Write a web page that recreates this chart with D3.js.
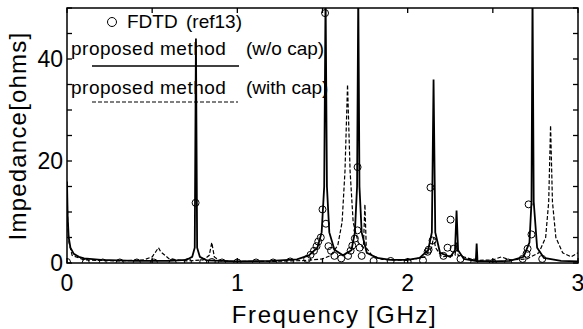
<!DOCTYPE html>
<html>
<head>
<meta charset="utf-8">
<script src="https://cdn.jsdelivr.net/npm/d3@7"></script>
<style>
body { margin:0; background:#fff; }
svg { display:block; font-family:"Liberation Sans", Arial, sans-serif; }
</style>
</head>
<body>
<div id="chart"></div>
<script>
// impedance vs frequency, [GHz, ohms]
var woCap = [[0,16],[0.004,9],[0.01,5],[0.02,3],[0.04,1.8],[0.07,1.2],[0.1,0.9],[0.2,0.6],[0.4,0.4],[0.6,0.4],[0.7,0.6],[0.735,1.2],[0.75,3],[0.757,44],[0.764,3],[0.78,1.2],[0.82,0.5],[1.0,0.3],[1.2,0.4],[1.35,0.7],[1.42,1.5],[1.47,3],[1.495,6],[1.51,15],[1.518,53],[1.526,15],[1.54,6],[1.57,2.6],[1.62,1.5],[1.67,2.5],[1.69,6],[1.703,15],[1.71,53],[1.717,15],[1.73,6],[1.76,2],[1.82,1],[1.9,0.6],[2.0,0.6],[2.07,1],[2.12,2.5],[2.142,6],[2.152,36],[2.162,6],[2.19,2],[2.25,1.2],[2.278,2.5],[2.287,10.3],[2.296,2.5],[2.33,0.8],[2.4,0.4],[2.405,3.8],[2.41,0.4],[2.5,0.3],[2.6,0.4],[2.68,1.2],[2.715,4],[2.727,12],[2.733,53],[2.74,12],[2.76,3],[2.8,1],[2.9,0.4],[3.0,0.3]];
var withCap = [[0,15],[0.005,7],[0.012,4],[0.03,1.5],[0.1,0.6],[0.3,0.4],[0.45,0.6],[0.5,1.2],[0.525,2.4],[0.537,3],[0.55,2.2],[0.6,0.8],[0.7,0.4],[0.8,0.6],[0.835,1.5],[0.85,4],[0.865,1.2],[0.9,0.4],[1.0,0.3],[1.2,0.3],[1.4,0.5],[1.5,0.8],[1.55,1.5],[1.59,3.5],[1.615,8],[1.632,18],[1.647,35],[1.662,18],[1.68,8],[1.71,4],[1.74,3],[1.749,11.5],[1.757,3],[1.79,1.5],[1.85,0.7],[2.0,0.5],[2.1,1.2],[2.14,3],[2.152,5],[2.164,3],[2.2,1.2],[2.278,1.5],[2.287,4],[2.296,1.5],[2.4,0.5],[2.5,0.6],[2.55,1.2],[2.6,0.6],[2.7,0.8],[2.77,2],[2.81,5],[2.828,12],[2.839,27],[2.85,12],[2.87,5],[2.91,2],[2.96,1.2],[3.0,2]];
var fdtd = [[0,0.2],[0.11,0.1],[0.21,0.1],[0.31,0.1],[0.41,0.1],[0.51,0.1],[0.62,0.1],[0.71,0.2],[0.755,11.8],[0.8,0.2],[0.85,0.2],[0.91,0.1],[1.0,0.1],[1.11,0.1],[1.21,0.1],[1.31,0.3],[1.41,0.8],[1.43,1.6],[1.45,2.4],[1.465,3.3],[1.475,4.2],[1.49,5],[1.5,10.5],[1.515,49],[1.52,7.7],[1.535,3.3],[1.55,2.4],[1.57,1.4],[1.61,0.9],[1.65,1.4],[1.665,2.4],[1.675,3.4],[1.69,4.8],[1.705,6.4],[1.706,18.8],[1.718,3],[1.73,1.4],[1.8,0.4],[1.9,0.4],[2.0,0.2],[2.09,0.5],[2.117,2.2],[2.123,2.6],[2.134,14.8],[2.146,4.4],[2.21,1.4],[2.234,3],[2.252,8.5],[2.27,2.8],[2.31,0.8],[2.39,0.1],[2.5,0],[2.59,0.1],[2.675,0.8],[2.698,1.8],[2.704,2.8],[2.71,11.5],[2.727,5.6],[2.79,0.8]];
var xTickLabels = [0,1,2,3];
var yTickLabels = [0,20,40];

var width = 583, height = 329;
var svg = d3.select("#chart").append("svg").attr("width",width).attr("height",height);
var pLeft = 67, pRight = 578, pTop = 8, pBottom = 263;

var x = d3.scaleLinear().domain([0,3]).range([pLeft,pRight]);
var y = d3.scaleLinear().domain([0,50]).range([pBottom,pTop]);

svg.append("clipPath").attr("id","clip")
	.append("rect").attr("x",pLeft).attr("y",pTop).attr("width",pRight-pLeft).attr("height",pBottom-pTop);

// legend text (under the curves)
var leg = svg.append("g").style("font-size","19px").attr("fill","#000");
leg.append("circle").attr("cx",112).attr("cy",22).attr("r",4.5).attr("fill","none").attr("stroke","#000").attr("stroke-width",1);
leg.append("text").attr("x",127).attr("y",28).text("FDTD");
leg.append("text").attr("x",186).attr("y",28).text("(ref13)");
leg.append("text").attr("x",71).attr("y",55).style("letter-spacing","0.5px").text("proposed method");
leg.append("text").attr("x",246).attr("y",55).text("(w/o cap)");
leg.append("line").attr("x1",92).attr("x2",239).attr("y1",66).attr("y2",66).attr("stroke","#000").attr("stroke-width",1.3);
leg.append("text").attr("x",71).attr("y",94).style("letter-spacing","0.5px").text("proposed method");
leg.append("text").attr("x",246).attr("y",94).text("(with cap)");
leg.append("line").attr("x1",92).attr("x2",238).attr("y1",102).attr("y2",102).attr("stroke","#000").attr("stroke-width",1.2).attr("stroke-dasharray","4,2");

var line = d3.line().x(function(d){return x(d[0]);}).y(function(d){return y(d[1]);});
var plot = svg.append("g").attr("clip-path","url(#clip)");

plot.append("path").datum(withCap).attr("d",line)
	.attr("fill","none").attr("stroke","#000").attr("stroke-width",1.2).attr("stroke-dasharray","4,2");
plot.append("path").datum(woCap).attr("d",line)
	.attr("fill","none").attr("stroke","#000").attr("stroke-width",1.8);
plot.selectAll("circle.fd").data(fdtd).enter().append("circle")
	.attr("class","fd")
	.attr("cx",function(d){return x(d[0]);})
	.attr("cy",function(d){return y(d[1]);})
	.attr("r",3.5).attr("fill","none").attr("stroke","#000").attr("stroke-width",1);

// frame and inward ticks
var ax = svg.append("g").attr("stroke","#000");
ax.append("rect").attr("x",pLeft).attr("y",pTop).attr("width",pRight-pLeft).attr("height",pBottom-pTop)
	.attr("fill","none").attr("stroke-width",1.5);
d3.range(0,3.01,0.5).forEach(function(v){
	ax.append("line").attr("x1",x(v)).attr("x2",x(v)).attr("y1",pBottom).attr("y2",pBottom-5).attr("stroke-width",1.3);
	ax.append("line").attr("x1",x(v)).attr("x2",x(v)).attr("y1",pTop).attr("y2",pTop+5).attr("stroke-width",1.3);
});
d3.range(0,50.1,5).forEach(function(v){
	ax.append("line").attr("x1",pLeft).attr("x2",pLeft+5).attr("y1",y(v)).attr("y2",y(v)).attr("stroke-width",1.3);
	ax.append("line").attr("x1",pRight).attr("x2",pRight-5).attr("y1",y(v)).attr("y2",y(v)).attr("stroke-width",1.3);
});

svg.selectAll("text.xt").data(xTickLabels).enter().append("text")
	.attr("class","xt").attr("x",function(d){return x(d);}).attr("y",291)
	.attr("text-anchor","middle").style("font-size","23px").text(function(d){return d;});
svg.selectAll("text.yt").data(yTickLabels).enter().append("text")
	.attr("class","yt").attr("x",63).attr("y",function(d){return y(d)+8;})
	.attr("text-anchor","end").style("font-size","23px").text(function(d){return d;});

svg.append("text").attr("x",(pLeft+pRight)/2+12).attr("y",323).attr("text-anchor","middle")
	.style("font-size","24px").style("letter-spacing","1.6px").text("Frequency [GHz]");
svg.append("text").attr("transform","translate(26,136) rotate(-90)").attr("text-anchor","middle")
	.style("font-size","24px").style("letter-spacing","1.2px").text("Impedance[ohms]");
</script>
</body>
</html>
